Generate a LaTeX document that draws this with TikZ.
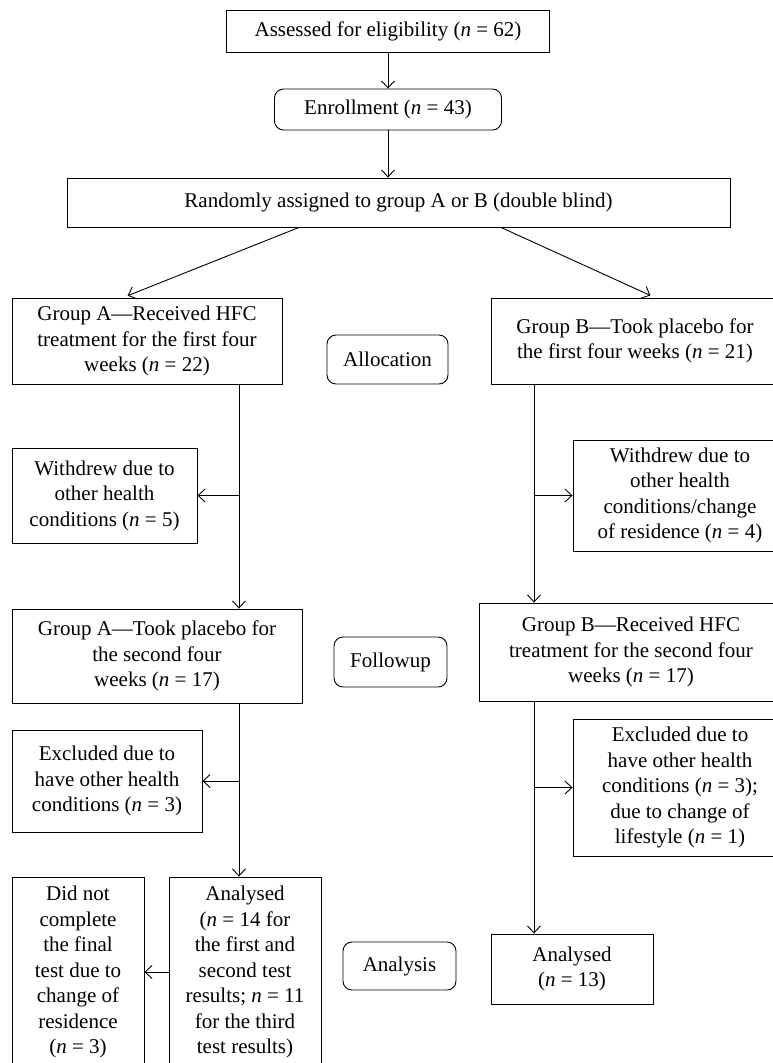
\documentclass[tikz,border=0pt]{standalone}
\usepackage{fontspec}
\setmainfont{Liberation Serif}
\usepackage{tikz}
\usetikzlibrary{arrows.meta,positioning,calc}

\newcommand{\nn}{\textit{n}}

\begin{document}
\begin{tikzpicture}[x=1pt, y=1pt, >={Straight Barb[length=7pt,width=13pt]},
  box/.style={draw, line width=0.9pt, inner sep=3pt, align=center, font=\fontsize{21}{25.5}\selectfont},
  phase/.style={box, rounded corners=9pt},
  link/.style={->, line width=0.9pt}]
  \useasboundingbox (0,0) rectangle (772,-1063);

  % enrolment
  \node[box, minimum width=323pt, minimum height=42pt] (assess) at (388,-31) {Assessed for eligibility (\nn{} = 62)};
  \node[phase, minimum width=227pt, minimum height=41pt] (enroll) at (388,-109.5) {Enrollment (\nn{} = 43)};
  \node[box, minimum width=663pt, minimum height=49pt] (random) at (398.5,-202.5) {Randomly assigned to group A or B (double blind)};

  % allocation
  \node[box, minimum width=270pt, minimum height=86pt] (grpAa) at (147,-341) {Group A—Received HFC\\treatment for the first four\\weeks (\nn{} = 22)};
  \node[phase, minimum width=121pt, minimum height=49pt] (alloc) at (387.5,-359.5) {Allocation};
  \node[box, minimum width=288pt, minimum height=86pt] (grpBa) at (635,-341) {Group B—Took placebo for\\the first four weeks (\nn{} = 21)};
  \node[box, minimum width=185pt, minimum height=95pt] (wdA) at (104.5,-495.5) {Withdrew due to\\other health\\conditions (\nn{} = 5)};
  \node[box, minimum width=214pt, minimum height=111pt] (wdB) at (680,-495.5) {Withdrew due to\\other health\\conditions/change\\of residence (\nn{} = 4)};

  % followup
  \node[box, minimum width=290pt, minimum height=94pt] (grpAb) at (157,-656) {Group A—Took placebo for\\the second four\\weeks (\nn{} = 17)};
  \node[phase, minimum width=113pt, minimum height=50pt] (follow) at (390.5,-662) {Followup};
  \node[box, minimum width=304pt, minimum height=98pt] (grpBb) at (631,-652) {Group B—Received HFC\\treatment for the second four\\weeks (\nn{} = 17)};
  \node[box, minimum width=190pt, minimum height=102pt] (exA) at (107,-781) {Excluded due to\\have other health\\conditions (\nn{} = 3)};
  \node[box, minimum width=214pt, minimum height=137pt] (exB) at (680,-787.5) {Excluded due to\\have other health\\conditions (\nn{} = 3);\\due to change of\\lifestyle (\nn{} = 1)};

  % analysis
  \node[box, minimum width=132pt, minimum height=190pt] (didnot) at (78,-972) {Did not\\complete\\the final\\test due to\\change of\\residence\\(\nn{} = 3)};
  \node[box, minimum width=152pt, minimum height=190pt] (anA) at (245,-972) {Analysed\\(\nn{} = 14 for\\the first and\\second test\\results; \nn{} = 11\\for the third\\test results)};
  \node[phase, minimum width=113pt, minimum height=48pt] (analysis) at (399.5,-966) {Analysis};
  \node[box, minimum width=162pt, minimum height=70pt] (anB) at (572,-969) {Analysed\\(\nn{} = 13)};

  \coordinate (spineA) at ([xshift=92pt]grpAa.south);
  \coordinate (spineB) at ([xshift=-101pt]grpBa.south);
  \coordinate (spineA2) at ([xshift=82pt]grpAb.south);
  \coordinate (spineB2) at ([xshift=-97pt]grpBb.south);

  \draw[link] (assess) -- (enroll);
  \draw[link] (enroll) -- (enroll |- random.north);
  \draw[link, shorten >=5pt] ([xshift=-99.5pt]random.south) -- ([xshift=-24pt]grpAa.north);
  \draw[link, shorten >=5pt] ([xshift=102.5pt]random.south) -- ([xshift=20pt]grpBa.north);

  \draw[link] (spineA) -- (spineA |- grpAb.north);
  \draw[link] (spineA |- wdA.east) -- (wdA.east);
  \draw[link] (spineB) -- (spineB |- grpBb.north);
  \draw[link] (spineB |- wdB.west) -- (wdB.west);

  \draw[link] (spineA2) -- (spineA2 |- anA.north);
  \draw[link] (spineA2 |- exA.east) -- (exA.east);
  \draw[link] (anA.west) -- (didnot.east);
  \draw[link] (spineB2) -- (spineB2 |- anB.north);
  \draw[link] (spineB2 |- exB.west) -- (exB.west);
\end{tikzpicture}
\end{document}
